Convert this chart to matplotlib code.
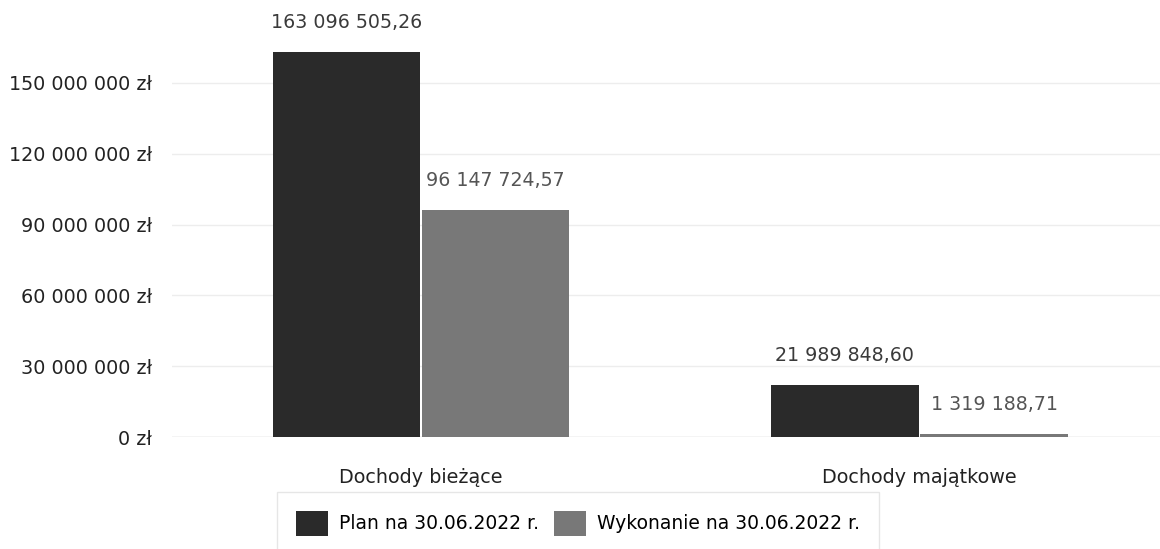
import numpy as np
from matplotlib import pyplot as plt
from matplotlib.ticker import FuncFormatter

# Data.
categories = ["Dochody bieżące", "Dochody majątkowe"]
series_names = ["Plan na 30.06.2022 r.", "Wykonanie na 30.06.2022 r."]
plan = [163096505.26, 21989848.60]
wykonanie = [96147724.57, 1319188.71]
y_ticks = [0, 30e6, 60e6, 90e6, 120e6, 150e6]

plt.rcParams['font.family'] = ['DejaVu Sans']


def pl_number(v, decimals=2):
    s = f"{v:,.{decimals}f}"
    return s.replace(",", " ").replace(".", ",")


fig = plt.figure(figsize=(11.6, 5.49), dpi=100)
ax = fig.add_axes([0.1483, 0.204, 0.8517, 0.774])

x = np.arange(len(categories))
w = 0.299
colors = ["#2a2a2a", "#787878"]
label_colors = ["#3a3a3a", "#555555"]

for i, (vals, name) in enumerate(zip([plan, wykonanie], series_names)):
    pos = x - w / 2 + i * w
    bars = ax.bar(pos, vals, width=w * 0.99, color=colors[i], label=name, zorder=3)
    for b, v in zip(bars, vals):
        ax.annotate(pl_number(v), (b.get_x() + b.get_width() / 2, v),
                    xytext=(0, 21.5), textcoords="offset points",
                    ha="center", va="center", fontsize=13.7, color=label_colors[i])

ax.set_xlim(-0.4995, 1.4824)
ax.set_ylim(0, 180e6)
ax.set_yticks(y_ticks)
ax.yaxis.set_major_formatter(FuncFormatter(lambda v, p: pl_number(v, 0) + " zł"))
ax.set_xticks(x)
ax.set_xticklabels(categories)
ax.tick_params(axis="both", length=0, labelsize=13.8, colors="#222222")
ax.tick_params(axis="y", pad=14.5)
ax.tick_params(axis="x", pad=22)
ax.grid(axis="y", color="#ededed", linewidth=1, zorder=0)
for s in ax.spines.values():
    s.set_visible(False)
ax.axhline(0, color="#d8d8d8", linewidth=1, zorder=2)

leg = fig.legend(loc="upper left", bbox_to_anchor=(0.239, 0.104), ncol=2,
                 fontsize=13.5, frameon=True, fancybox=False, edgecolor="#e0e0e0",
                 handlelength=1.7, handleheight=1.7, handletextpad=0.6,
                 columnspacing=0.8, borderpad=1.0, borderaxespad=0)

fig.savefig("out.png", dpi=100, facecolor="white")
